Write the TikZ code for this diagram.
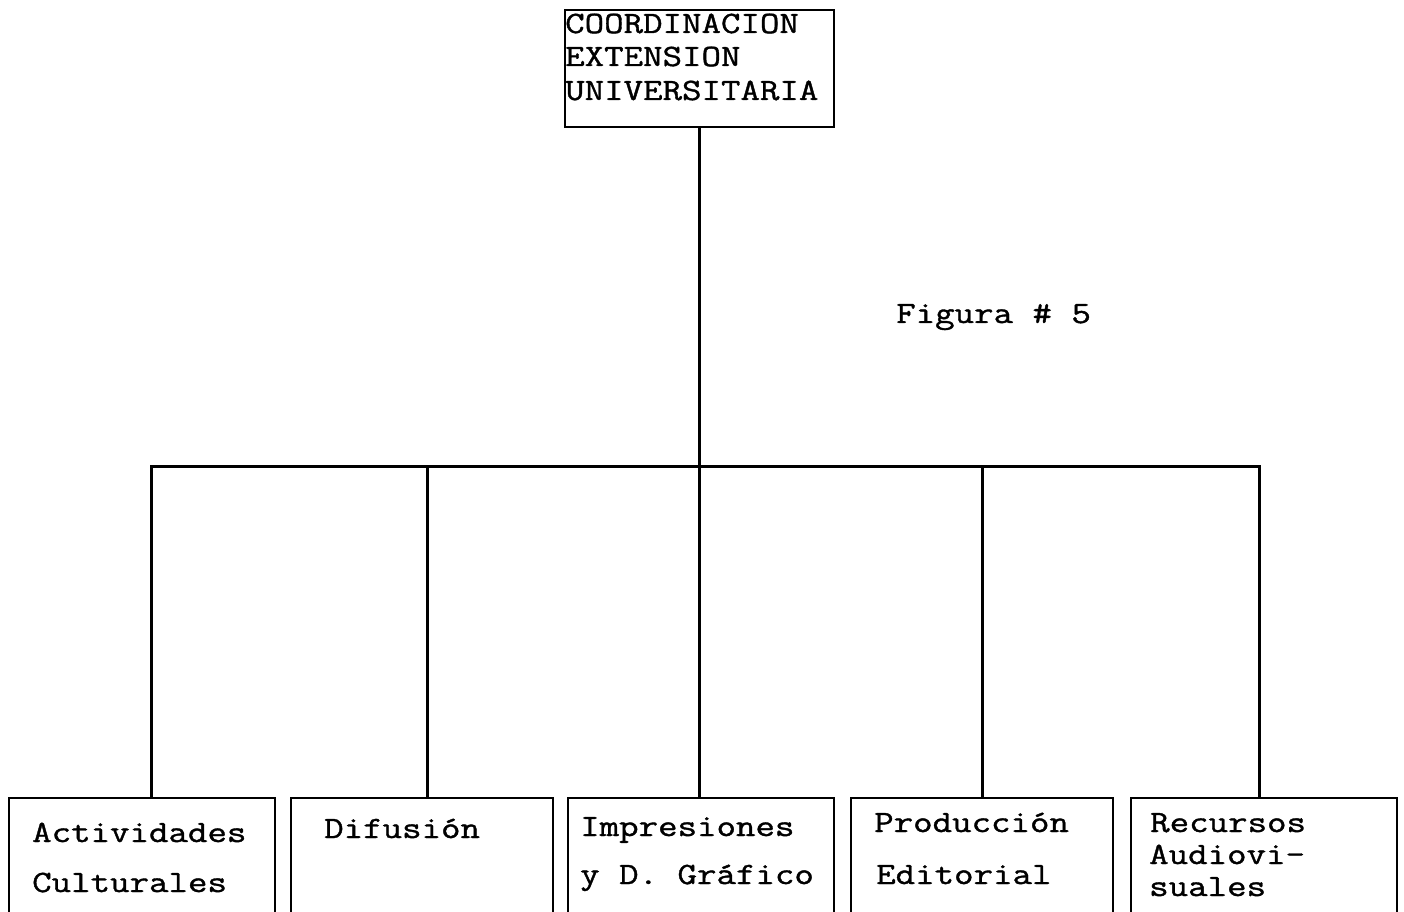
\documentclass[tikz,border=0pt]{standalone}
\usepackage{fontspec}
\newfontfamily\tw{Latin Modern Mono}[FakeStretch=1.22,FakeBold=1.2]
\begin{document}
\begin{tikzpicture}[x=1pt,y=1pt,
  boxst/.style={draw,line width=2.4pt,rectangle,inner sep=0pt},
  wire/.style={line width=3pt},
  lbl/.style={anchor=base west,inner sep=0pt,font=\tw\fontsize{31}{34}\selectfont}]
\clip (0,0) rectangle (1404,911);
\fill[white] (0,0) rectangle (1404,911);
% boxes
\node[boxst,minimum width=269pt,minimum height=117pt] (top) at (699.5,842.5) {};
\node[boxst,minimum width=266pt,minimum height=132pt] (b1) at (142,47) {};
\node[boxst,minimum width=262pt,minimum height=132pt] (b2) at (422,47) {};
\node[boxst,minimum width=266pt,minimum height=132pt] (b3) at (701,47) {};
\node[boxst,minimum width=262pt,minimum height=132pt] (b4) at (982,47) {};
\node[boxst,minimum width=266pt,minimum height=132pt] (b5) at (1264,47) {};
% texts
\node[lbl] (t1) at (565,878) {COORDINACION};
\node[lbl] (t2) at (565,845) {EXTENSION};
\node[lbl] (t3) at (565,811) {UNIVERSITARIA};
\node[lbl] (fig) at (896,588) {Figura \# 5};
\node[lbl] (a1) at (32,69) {Actividades};
\node[lbl] (a2) at (32,19) {Culturales};
\node[lbl] (d1) at (324,73) {Difusión};
\node[lbl] (i1) at (580,75) {Impresiones};
\node[lbl] (i2) at (580,27) {y D. Gráfico};
\node[lbl] (p1) at (874,79) {Producción};
\node[lbl] (p2) at (876,27) {Editorial};
\node[lbl] (r1) at (1150,79) {Recursos};
\node[lbl] (r2) at (1149,47) {Audiovi-};
\node[lbl] (r3) at (1149,15) {suales};
% connectors
\coordinate (h1) at (151,444);
\coordinate (h2) at (427,444);
\coordinate (h3) at (703,444);
\coordinate (h4) at (982,444);
\coordinate (h5) at (1259,444);
\draw[wire] (top.south) -- (top.south |- b3.north);
\draw[wire,line cap=rect] (h1) -- (h5);
\draw[wire] (h1) -- (h1 |- b1.north);
\draw[wire] (h2) -- (h2 |- b2.north);
\draw[wire] (h4) -- (h4 |- b4.north);
\draw[wire] (h5) -- (h5 |- b5.north);
\end{tikzpicture}
\end{document}
